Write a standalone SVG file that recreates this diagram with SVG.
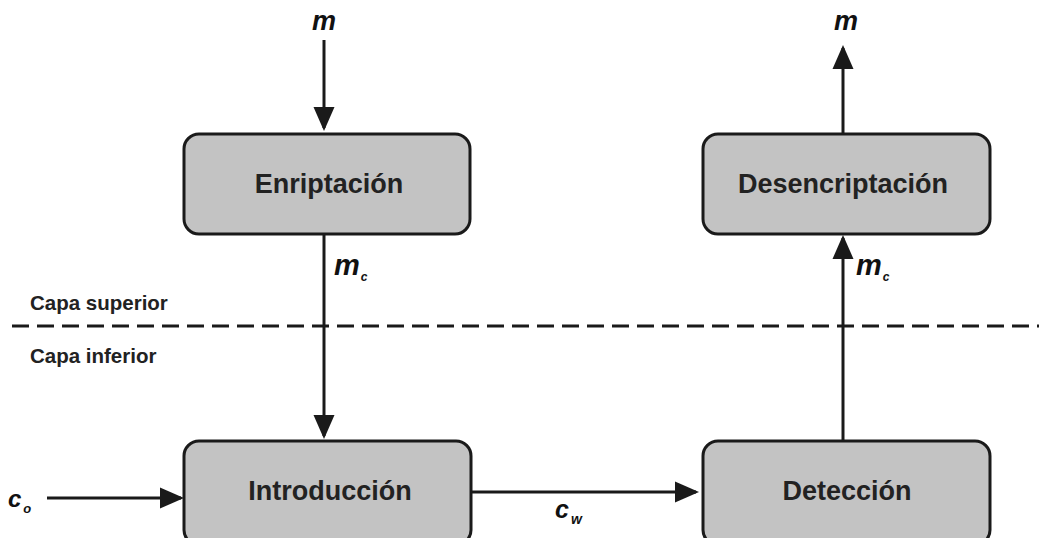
<svg xmlns="http://www.w3.org/2000/svg" width="1039" height="538" viewBox="0 0 1039 538">
  <style>
    .box { fill: #c3c3c3; stroke: #1a1a1a; stroke-width: 3; }
    .lbl { font-family: "Liberation Sans", Arial, sans-serif; font-weight: bold; font-size: 27px; fill: #222; text-anchor: middle; }
    .var { font-family: "Liberation Sans", Arial, sans-serif; font-weight: bold; font-style: italic; fill: #111; }
    .layer { font-family: "Liberation Sans", Arial, sans-serif; font-weight: bold; font-size: 20.5px; fill: #222; }
    .wire { stroke: #1a1a1a; stroke-width: 3; fill: none; }
  </style>
  <defs>
    <marker id="arrow" markerWidth="8" markerHeight="8" refX="7" refY="4" orient="auto" markerUnits="strokeWidth">
      <path d="M0,0.5 L8,4 L0,7.5 z" fill="#1a1a1a"/>
    </marker>
  </defs>
  <rect width="1039" height="538" fill="#ffffff"/>

  <!-- layer separator -->
  <g id="layers">
    <line x1="12" y1="326" x2="1039" y2="326" stroke="#1a1a1a" stroke-width="3" stroke-dasharray="17 8"/>
    <text class="layer" x="30" y="310">Capa superior</text>
    <text class="layer" x="30" y="363">Capa inferior</text>
  </g>

  <!-- connectors -->
  <g id="connectors">
    <line class="wire" x1="324" y1="40" x2="324" y2="128" marker-end="url(#arrow)"/>
    <line class="wire" x1="324" y1="235" x2="324" y2="436" marker-end="url(#arrow)"/>
    <line class="wire" x1="843" y1="441" x2="843" y2="238" marker-end="url(#arrow)"/>
    <line class="wire" x1="843" y1="133" x2="843" y2="48" marker-end="url(#arrow)"/>
    <line class="wire" x1="47" y1="498" x2="181" y2="498" marker-end="url(#arrow)"/>
    <line class="wire" x1="472" y1="492" x2="696" y2="492" marker-end="url(#arrow)"/>

    <text class="var" x="324" y="30" font-size="27" text-anchor="middle">m</text>
    <text class="var" x="846" y="30" font-size="27" text-anchor="middle">m</text>
    <text class="var" x="334" y="275" font-size="29">m<tspan font-size="12" dx="1" dy="6">c</tspan></text>
    <text class="var" x="856" y="275" font-size="29">m<tspan font-size="12" dx="1" dy="6">c</tspan></text>
    <text class="var" x="8" y="507" font-size="24">c<tspan font-size="13" dx="2" dy="6">o</tspan></text>
    <text class="var" x="555" y="518" font-size="25">c<tspan font-size="14" dx="2" dy="6">w</tspan></text>
  </g>

  <g id="enriptacion">
    <rect class="box" x="184" y="134" width="286" height="100" rx="15"/>
    <text class="lbl" x="329" y="193">Enriptación</text>
  </g>
  <g id="desencriptacion">
    <rect class="box" x="703" y="134" width="287" height="100" rx="15"/>
    <text class="lbl" x="843" y="193">Desencriptación</text>
  </g>
  <g id="introduccion">
    <rect class="box" x="184" y="441" width="287" height="104" rx="15"/>
    <text class="lbl" x="330" y="500">Introducción</text>
  </g>
  <g id="deteccion">
    <rect class="box" x="703" y="441" width="287" height="104" rx="15"/>
    <text class="lbl" x="847" y="500">Detección</text>
  </g>
</svg>
